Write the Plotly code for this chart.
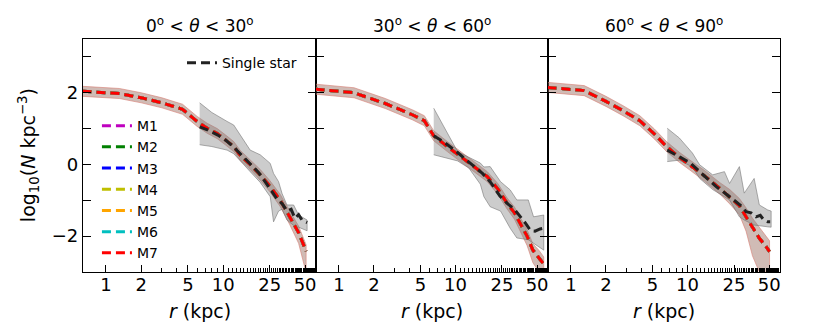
import plotly.graph_objects as go

# ------------------------------------------------------------
# Data (log10 number density vs r)
# ------------------------------------------------------------
model_names = ['M1', 'M2', 'M3', 'M4', 'M5', 'M6', 'M7']
model_colors = ['#bf00bf', '#008000', '#0000ff', '#bfbf00', '#ffa500', '#00bfbf', '#ff0000']
panel_titles = [
    '0<sup>o</sup> < <i>θ</i> < 30<sup>o</sup>',
    '30<sup>o</sup> < <i>θ</i> < 60<sup>o</sup>',
    '60<sup>o</sup> < <i>θ</i> < 90<sup>o</sup>',
]

# panel 1 : 0 < theta < 30
r_p1_models = [0.63, 1.3, 2.0, 3.0, 4.5, 6.0, 7.3, 8.9, 10.5, 12.3, 14, 17, 20.7, 25, 30.6, 37, 44, 51]
logn_p1_models = [2.04, 1.98, 1.86, 1.72, 1.54, 1.2, 1.01, 0.86, 0.68, 0.5, 0.25, 0.0, -0.29, -0.6, -0.99, -1.46, -1.9, -2.42]
err_p1_up = [0.14, 0.14, 0.14, 0.14, 0.14, 0.14, 0.14, 0.14, 0.14, 0.14, 0.14, 0.14, 0.15, 0.15, 0.16, 0.16, 0.18, 0.18]
err_p1_dn = [0.14, 0.14, 0.14, 0.14, 0.14, 0.14, 0.14, 0.14, 0.14, 0.14, 0.14, 0.14, 0.15, 0.16, 0.18, 0.22, 0.3, 0.6]
r_p1_single = [6.3, 7.5, 9, 10.5, 12, 14, 16, 18, 20, 23, 26, 29, 32, 35, 38, 41, 44, 47, 52]
logn_p1_single = [1.05, 0.95, 0.82, 0.68, 0.52, 0.30, 0.12, -0.05, -0.22, -0.5, -0.75, -0.98, -1.1, -1.3, -1.25, -1.5, -1.4, -1.55, -1.62]
r_p1_band = [6.3, 8, 10.8, 12.3, 14, 17, 20.7, 25.2, 26.9, 29.7, 31.8, 35, 39.9, 44, 52]
hi_p1_band = [1.72, 1.45, 1.2, 1.1, 0.82, 0.40, 0.27, 0.03, -0.25, -0.48, -0.81, -1.13, -1.13, -1.41, -1.55]
lo_p1_band = [0.55, 0.5, 0.4, 0.3, 0.1, -0.2, -0.5, -0.9, -1.6, -1.3, -1.25, -1.55, -1.7, -1.75, -1.85]

# panel 2 : 30 < theta < 60
r_p2_models = [0.63, 1.35, 1.8, 2.5, 3.4, 4.3, 5.4, 6.5, 8.5, 11, 14, 18.7, 23, 27.6, 32, 36, 41, 46, 52, 57]
logn_p2_models = [2.1, 2.0, 1.86, 1.7, 1.52, 1.38, 1.22, 0.8, 0.5, 0.22, -0.02, -0.34, -0.68, -1.08, -1.35, -1.64, -2.0, -2.39, -2.6, -2.78]
err_p2_up = [0.14, 0.14, 0.14, 0.14, 0.14, 0.14, 0.14, 0.14, 0.14, 0.14, 0.14, 0.14, 0.15, 0.15, 0.16, 0.16, 0.18, 0.18, 0.2, 0.2]
err_p2_dn = [0.14, 0.14, 0.14, 0.14, 0.14, 0.14, 0.14, 0.14, 0.14, 0.14, 0.14, 0.14, 0.15, 0.16, 0.18, 0.22, 0.26, 0.35, 0.4, 0.25]
r_p2_single = [6.5, 8, 10, 12, 14, 17, 20, 24, 28, 32, 36, 40, 44, 48, 53, 57]
logn_p2_single = [0.8, 0.62, 0.38, 0.15, -0.02, -0.25, -0.5, -0.88, -1.1, -1.25, -1.45, -1.65, -1.85, -1.86, -1.8, -1.78]
r_p2_band = [6.5, 10.4, 13, 16.3, 17.5, 19.8, 24.3, 29.4, 33.5, 42, 46.6, 57]
hi_p2_band = [1.57, 0.36, 0.2, 0.04, -0.07, -0.06, -0.48, -0.71, -0.99, -0.99, -1.46, -1.41]
lo_p2_band = [0.27, 0.10, -0.1, -0.55, -0.9, -1.18, -1.3, -1.78, -2.05, -2.1, -2.2, -2.39]

# panel 3 : 60 < theta < 90
r_p3_models = [0.63, 1.3, 2.0, 2.8, 3.9, 5.2, 6.6, 8.5, 10.4, 14, 18.8, 23, 27.8, 31.7, 36, 41.2, 46, 50.4]
logn_p3_models = [2.15, 2.06, 1.76, 1.5, 1.22, 0.85, 0.5, 0.2, -0.01, -0.32, -0.66, -0.9, -1.15, -1.46, -1.75, -2.06, -2.25, -2.43]
err_p3_up = [0.14, 0.14, 0.14, 0.14, 0.14, 0.14, 0.14, 0.14, 0.14, 0.15, 0.16, 0.2, 0.2, 0.25, 0.25, 0.3, 0.3, 0.3]
err_p3_dn = [0.14, 0.14, 0.14, 0.14, 0.14, 0.14, 0.14, 0.14, 0.14, 0.15, 0.16, 0.2, 0.25, 0.4, 0.8, 0.94, 0.75, 0.57]
r_p3_single = [6.7, 8.5, 10.5, 12.7, 15, 17.6, 20, 22.9, 25, 27.8, 30, 31.7, 35, 38.6, 42, 45, 48.7, 51]
logn_p3_single = [0.4, 0.22, 0.05, -0.2, -0.42, -0.62, -0.75, -0.9, -1.0, -1.13, -1.2, -1.32, -1.35, -1.46, -1.42, -1.55, -1.6, -1.6]
r_p3_band = [6.7, 8.5, 11, 12.7, 16.4, 20.7, 22.9, 27.8, 30.6, 37.2, 41.2, 48.7, 52]
hi_p3_band = [1.01, 0.74, 0.32, -0.01, -0.29, -0.2, -0.53, -0.06, -0.8, -0.39, -1.13, -1.27, -1.3]
lo_p3_band = [0.08, 0.12, -0.07, -0.39, -0.7, -0.9, -0.99, -1.46, -1.55, -1.69, -1.72, -1.74, -1.75]

x_tick_vals = [1, 2, 5, 10, 25, 50]
x_minor_vals = [3, 4, 6, 7, 8, 9] + list(range(11, 25)) + list(range(26, 50)) + list(range(51, 62))
y_tick_vals = [-2, -1, 0, 1, 2, 3]
y_tick_text = ['−2', '', '0', '', '2', '']

panels = [
    (r_p1_models, logn_p1_models, err_p1_up, err_p1_dn, r_p1_single, logn_p1_single, r_p1_band, hi_p1_band, lo_p1_band),
    (r_p2_models, logn_p2_models, err_p2_up, err_p2_dn, r_p2_single, logn_p2_single, r_p2_band, hi_p2_band, lo_p2_band),
    (r_p3_models, logn_p3_models, err_p3_up, err_p3_dn, r_p3_single, logn_p3_single, r_p3_band, hi_p3_band, lo_p3_band),
]

FONT = 'DejaVu Sans'
DASH = '9px,5px'

fig = go.Figure()

for i, (rm, ym, eu, ed, rs, ys, rb, hb, lb) in enumerate(panels):
    xa = 'x' if i == 0 else f'x{i + 1}'
    ya = 'y' if i == 0 else f'y{i + 1}'
    first = i == 0

    # spread of the models
    hi_m = [y + e for y, e in zip(ym, eu)]
    lo_m = [y - e for y, e in zip(ym, ed)]
    fig.add_trace(go.Scatter(
        x=rm + rm[::-1], y=hi_m + lo_m[::-1], fill='toself',
        fillcolor='rgba(150,105,90,0.45)', line=dict(color='rgba(215,125,115,0.6)', width=1),
        hoverinfo='skip', showlegend=False, xaxis=xa, yaxis=ya,
    ))
    # single-star spread
    fig.add_trace(go.Scatter(
        x=rb + rb[::-1], y=hb + lb[::-1], fill='toself',
        fillcolor='rgba(128,128,128,0.4)', line=dict(color='rgba(110,110,110,0.55)', width=1),
        hoverinfo='skip', showlegend=False, xaxis=xa, yaxis=ya,
    ))

    for name, col in zip(model_names, model_colors):
        fig.add_trace(go.Scatter(
            x=rm, y=ym, mode='lines', name=name,
            line=dict(color=col, width=3, dash=DASH),
            showlegend=first, legend='legend', xaxis=xa, yaxis=ya,
        ))

    fig.add_trace(go.Scatter(
        x=rs, y=ys, mode='lines', name='Single star',
        line=dict(color='#222222', width=3, dash=DASH),
        showlegend=first, legend='legend2', xaxis=xa, yaxis=ya,
    ))

# ------------------------------------------------------------
# Axes
# ------------------------------------------------------------
domains = [[0, 0.3343], [0.3343, 0.6671], [0.6671, 1.0]]
for i, dom in enumerate(domains):
    sfx = '' if i == 0 else str(i + 1)
    fig.update_layout(**{
        f'xaxis{sfx}': dict(
            type='log', range=[-0.196, 1.792], domain=dom, anchor=f'y{sfx}',
            tickmode='array', tickvals=x_tick_vals, ticktext=[str(v) for v in x_tick_vals],
            ticks='inside', ticklen=7, tickwidth=1.2, tickcolor='black',
            minor=dict(tickmode='array', tickvals=x_minor_vals, ticks='inside',
                       ticklen=3.5, tickwidth=1, tickcolor='black'),
            showline=True, linecolor='black', linewidth=1.2, mirror=True,
            showgrid=False, zeroline=False, automargin=False,
            ticklabelstandoff=-4,
            tickfont=dict(family=FONT, size=18, color='black'),
        ),
        f'yaxis{sfx}': dict(
            range=[-3, 3.5], anchor=f'x{sfx}',
            tickmode='array', tickvals=y_tick_vals, ticktext=y_tick_text,
            showticklabels=(i == 0),
            ticks='inside', ticklen=8, tickwidth=1.2, tickcolor='black',
            showline=True, linecolor='black', linewidth=1.2, mirror='allticks',
            showgrid=False, zeroline=False, automargin=False,
            tickfont=dict(family=FONT, size=18, color='black'),
        ),
    })

# panel titles and x labels
for i, dom in enumerate(domains):
    xc = (dom[0] + dom[1]) / 2
    fig.add_annotation(text=panel_titles[i], x=xc, y=1, xref='paper', yref='paper',
                       xanchor='center', yanchor='bottom', yshift=1, showarrow=False,
                       font=dict(family=FONT, size=17, color='black'))
    fig.add_annotation(text='<i>r</i> (kpc)', x=xc, y=-0.167, xref='paper', yref='paper',
                       xanchor='center', yanchor='middle', showarrow=False,
                       font=dict(family=FONT, size=19, color='black'))

fig.add_annotation(text='log<sub>10</sub>(<i>N</i> kpc<sup>−3</sup>)', x=-0.078, y=0.5,
                   xref='paper', yref='paper', textangle=-90, showarrow=False,
                   xanchor='center', yanchor='middle',
                   font=dict(family=FONT, size=19, color='black'))

# page body has an 8px margin, so the figure is shrunk by that amount
fig.update_layout(
    width=822, height=324,
    margin=dict(l=75, r=50, t=31, b=60),
    plot_bgcolor='white', paper_bgcolor='white',
    font=dict(family=FONT, size=14, color='black'),
    legend=dict(x=0.02, y=0.695, xanchor='left', yanchor='top',
                bgcolor='rgba(0,0,0,0)', font=dict(size=14), tracegroupgap=0,
                itemwidth=30),
    legend2=dict(x=0.142, y=0.965, xanchor='left', yanchor='top',
                 bgcolor='rgba(0,0,0,0)', font=dict(size=14), itemwidth=30),
)

fig.write_html('out.html')
